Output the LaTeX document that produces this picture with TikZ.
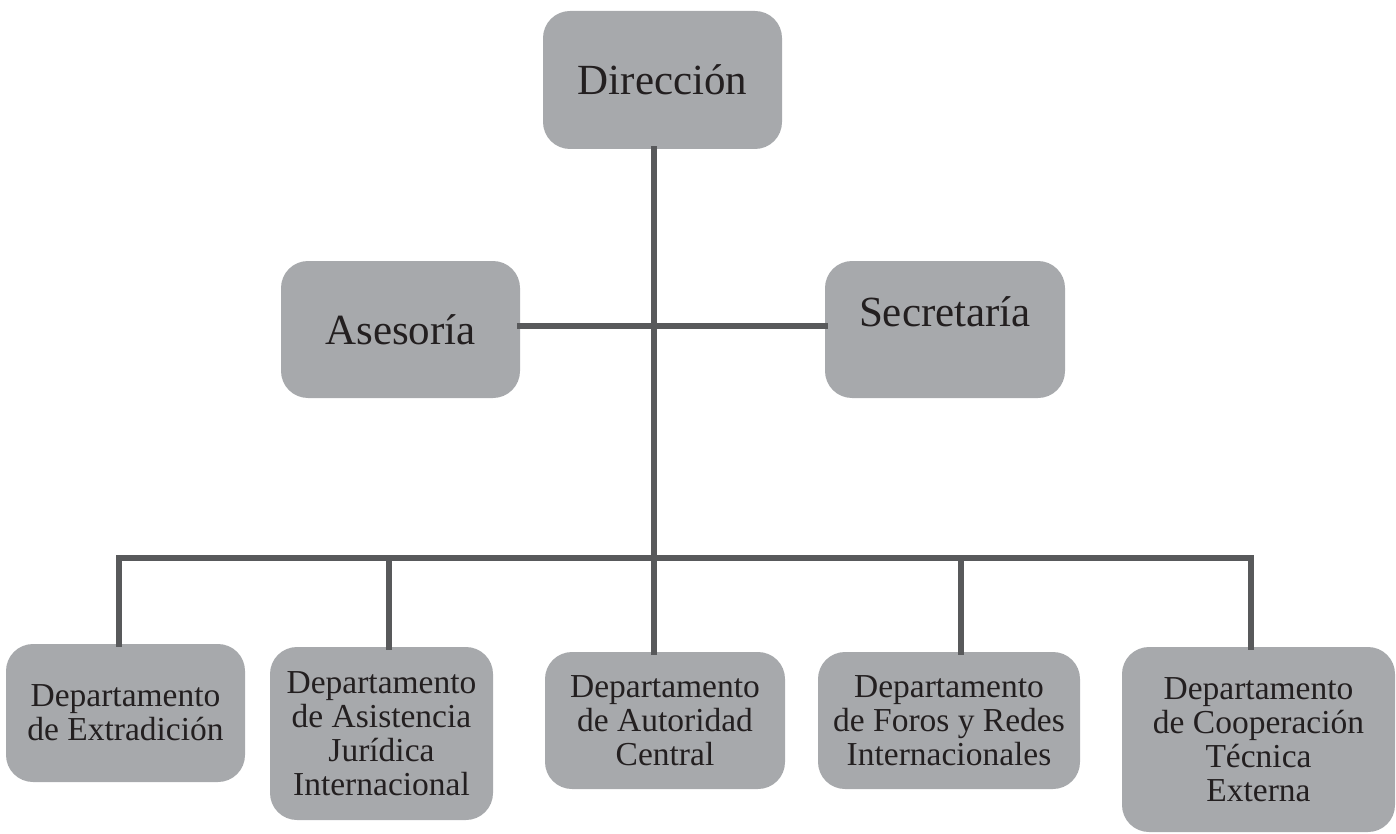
\documentclass[tikz,border=0pt]{standalone}
\usepackage{fontspec}
\setmainfont{Liberation Serif}
\usepackage{tikz}
\definecolor{gris}{HTML}{A7A9AC}
\definecolor{grislinea}{HTML}{58595B}
\definecolor{texto}{HTML}{231F20}
\tikzstyle{caja}=[rectangle, rounded corners=27pt, fill=gris, text=texto, align=center, inner sep=0pt]
\tikzstyle{grande}=[caja, font=\fontsize{43}{46}\selectfont]
\tikzstyle{depto}=[caja, font=\fontsize{33.5}{34}\selectfont]
\tikzstyle{linea}=[draw=grislinea, line width=5.5pt, line cap=rect]

\begin{document}
\begin{tikzpicture}[x=1pt, y=-1pt]
			\useasboundingbox (0,0) rectangle (1396,834);
			\node[grande, minimum width=239pt, minimum height=138pt] (direccion) at (662.5,80) {Dirección};
			\node[grande, minimum width=239pt, minimum height=137pt] (asesoria) at (400.5,329.5) {Asesoría};
			\node[grande, minimum width=240pt, minimum height=137pt] (secretaria) at (945,329.5) {\raisebox{36pt}{Secretaría}};
			\node[depto, minimum width=239pt, minimum height=138pt] (dep1) at (125.5,713) {Departamento\\de Extradición};
			\node[depto, minimum width=223pt, minimum height=173pt] (dep2) at (381.5,733.5) {Departamento\\de Asistencia\\Jurídica\\Internacional};
			\node[depto, minimum width=240pt, minimum height=137pt] (dep3) at (665,720.5) {Departamento\\de Autoridad\\Central};
			\node[depto, minimum width=262pt, minimum height=137pt] (dep4) at (949,720.5) {Departamento\\de Foros y Redes\\Internacionales};
			\node[depto, minimum width=273pt, minimum height=185pt] (dep5) at (1258.5,739.5) {Departamento\\de Cooperación\\Técnica\\Externa};
			\coordinate (b1) at (119,558);
			\coordinate (b2) at (389,558);
			\coordinate (b3) at (654,558);
			\coordinate (b4) at (961,558);
			\coordinate (b5) at (1251,558);
			\path[linea]
				(b3 |- direccion.south) -- (b3)
				(asesoria.east |- 0,326) -- (secretaria.west |- 0,326)
				(b1) -- (b5);
			\foreach \i in {1,...,5}
				\path[linea] (b\i) -- (b\i |- dep\i.north);
		\end{tikzpicture}
\end{document}
